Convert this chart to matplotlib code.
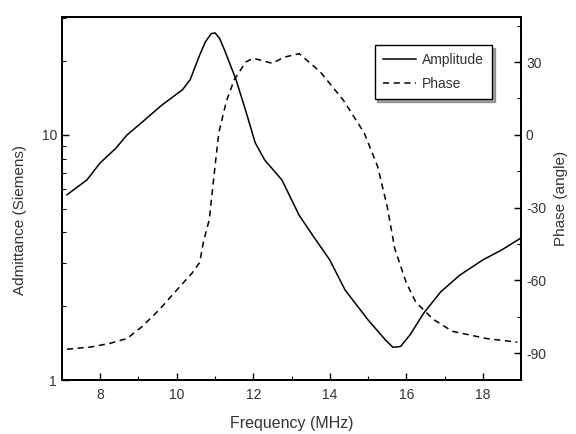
import numpy as np
import matplotlib
matplotlib.use("Agg")
import matplotlib.pyplot as plt
from matplotlib.ticker import LogLocator, NullFormatter, FixedLocator, MultipleLocator

plt.rcParams['font.family'] = ['Liberation Sans', 'DejaVu Sans']
plt.rcParams['axes.unicode_minus'] = False

# amplitude (Siemens) vs frequency (MHz)
amp_freq = [7.13, 7.65, 8.0, 8.4, 8.7, 9.1, 9.6, 10.15, 10.35, 10.6, 10.75, 10.9, 11.0,
            11.12, 11.25, 11.55, 11.8, 12.05, 12.3, 12.75, 13.2, 13.6, 14.0, 14.4,
            15.0, 15.45, 15.65, 15.85, 16.1, 16.45, 16.9, 17.4, 18.0, 18.5, 19.0]
amp_val = [5.7, 6.55, 7.7, 8.8, 10.0, 11.3, 13.2, 15.3, 16.8, 21.2, 24.0, 25.9, 26.1,
           24.8, 22.2, 16.8, 12.6, 9.3, 7.9, 6.55, 4.7, 3.8, 3.09, 2.33,
           1.76, 1.46, 1.36, 1.37, 1.53, 1.87, 2.29, 2.68, 3.09, 3.4, 3.8]

# phase (angle) vs frequency (MHz)
ph_freq = [7.13, 7.75, 8.25, 8.7, 9.1, 9.55, 10.0, 10.4, 10.6, 10.7, 10.85, 11.0,
           11.1, 11.3, 11.5, 11.8, 12.0, 12.5, 12.8, 13.2, 13.75, 14.35, 14.9,
           15.25, 15.5, 15.7, 16.0, 16.25, 16.7, 17.2, 18.1, 18.9]
ph_val = [-88.4, -87.5, -86, -84, -79, -72, -64, -57, -52.6, -44, -35, -13,
          1, 14, 22.6, 30, 31.6, 29.5, 32, 33.5, 26, 14.4, 0.8,
          -13, -29.5, -47, -61, -69, -76, -81, -84, -85.5]

txt = '#333333'

fig = plt.figure(figsize=(5.76, 4.34), dpi=100)
ax = fig.add_axes([0.1076, 0.1244, 0.797, 0.8364])
ax2 = ax.twinx()

l1, = ax.plot(amp_freq, amp_val, color='black', lw=1.1, label='Amplitude')
l2, = ax2.plot(ph_freq, ph_val, color='black', lw=1.1, ls=(0, (4, 3)), label='Phase')

ax.set_xlim(7, 19)
ax.set_yscale('log')
ax.set_ylim(1, 30.3)
ax.yaxis.set_major_locator(FixedLocator([1, 10]))
ax.set_yticklabels(['1', '10'])
ax.yaxis.set_minor_locator(LogLocator(base=10, subs=np.arange(2, 10)))
ax.yaxis.set_minor_formatter(NullFormatter())
ax.xaxis.set_major_locator(MultipleLocator(2))
ax.xaxis.set_minor_locator(MultipleLocator(1))

ax2.set_ylim(-101.1, 48.6)
ax2.yaxis.set_major_locator(MultipleLocator(30))
ax2.yaxis.set_minor_locator(MultipleLocator(15))

for a in (ax, ax2):
    a.tick_params(which='major', direction='in', length=5, width=1, labelsize=10,
                  colors='black', labelcolor=txt)
    a.tick_params(which='minor', direction='in', length=3, width=0.8, colors='black')
    for s in a.spines.values():
        s.set_linewidth(1.3)
ax.tick_params(axis='x', pad=6)
ax.tick_params(axis='y', which='both', right=False)
ax2.tick_params(axis='y', which='both', left=False)

ax.set_xlabel('Frequency (MHz)', fontsize=11.5, color=txt)
ax.xaxis.set_label_coords(0.5, -0.098)
ax.set_ylabel('Admittance (Siemens)', fontsize=11, color=txt)
ax.yaxis.set_label_coords(-0.076, 0.44)
ax2.set_ylabel('Phase (angle)', fontsize=11, color=txt, labelpad=6)

leg = ax2.legend(handles=[l1, l2], loc='upper right', bbox_to_anchor=(0.937, 0.923),
                 borderaxespad=0, fancybox=False, shadow=True, framealpha=1,
                 edgecolor='black', fontsize=10, handlelength=2.4, handletextpad=0.4,
                 borderpad=0.6, labelspacing=0.7)
leg.get_frame().set_linewidth(1.0)
for t in leg.get_texts():
    t.set_color(txt)

fig.savefig('out.png', dpi=100)
